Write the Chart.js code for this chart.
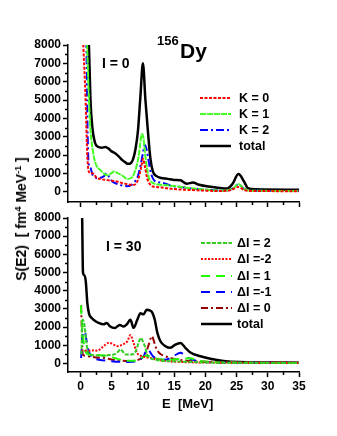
<!DOCTYPE html>
<html>
<head>
<meta charset="utf-8">
<script src="https://cdn.jsdelivr.net/npm/chart.js@4.4.1/dist/chart.umd.min.js"></script>
<style>
	body { margin: 0; background: #fff; }
	#wrap { position: relative; width: 337px; height: 436px; overflow: hidden; font-family: "Liberation Sans", Arial, sans-serif; font-weight: bold; color: #000; }
	#wrap canvas { position: absolute; left: 0; }
	.txt { position: absolute; white-space: nowrap; line-height: 1; }
	.ylab { position: absolute; left: 21px; top: 219px; transform: translate(-50%, -50%) rotate(-90deg); white-space: nowrap; font-size: 14px; line-height: 1; }
	.ylab sup { font-size: 9px; vertical-align: 5px; }
</style>
</head>
<body>
<div id="wrap">
	<canvas id="topPanel" width="337" height="215" style="top:0"></canvas>
	<canvas id="bottomPanel" width="337" height="236" style="top:200px"></canvas>
	<div class="txt" style="left:157px; top:34px; font-size:13px;">156</div>
	<div class="txt" style="left:180px; top:40px; font-size:21px;">Dy</div>
	<div class="txt" style="left:102px; top:56px; font-size:14px;">I = 0</div>
	<div class="txt" style="left:106px; top:239px; font-size:14px;">I = 30</div>
	<div class="txt" style="left:162px; top:397px; font-size:13px;">E&nbsp; [MeV]</div>
	<div class="ylab">S(E2)&nbsp; [ fm<sup>4</sup> MeV<sup>-1</sup> ]</div>
</div>
<script>
"use strict";

var yTickValues = [0, 1000, 2000, 3000, 4000, 5000, 6000, 7000, 8000];
var xTickValues = [0, 5, 10, 15, 20, 25, 30, 35];

// ---- I = 0 panel ----
var kLabels = ['K = 0', 'K = 1', 'K = 2', 'total'];

var eK0 = [0.2, 0.45, 0.8, 1.1, 1.4, 2.0, 2.6, 3.4, 4.2, 5.0, 5.8, 6.6, 7.4, 8.3, 8.9, 9.3, 9.7, 10.0, 10.3, 10.7, 11.2, 11.8, 12.8, 14.0, 16.0, 18.0, 20.0, 22.0, 24.0, 25.3, 26.3, 28.0, 35.0];
var sK0 = [10000, 8000, 5200, 1900, 1050, 1000, 760, 680, 640, 600, 560, 480, 420, 360, 450, 730, 1300, 1800, 1400, 700, 380, 270, 240, 180, 120, 90, 60, 40, 80, 260, 80, 40, 30];

var eK1 = [0.8, 1.05, 1.3, 1.6, 2.0, 2.4, 3.2, 4.3, 4.9, 5.4, 6.0, 6.5, 7.5, 8.3, 8.9, 9.3, 9.6, 9.85, 10.1, 10.4, 10.9, 11.7, 12.8, 14.4, 16.0, 17.6, 20.0, 23.0, 24.5, 25.3, 26.2, 27.0, 35.0];
var sK1 = [10000, 8000, 5500, 3400, 2200, 1550, 1180, 900, 1000, 1100, 1000, 930, 700, 800, 1300, 1900, 2700, 3150, 2900, 1900, 820, 460, 380, 330, 270, 190, 110, 60, 200, 420, 150, 60, 40];

var eK2 = [0.75, 0.95, 1.1, 1.3, 1.6, 1.9, 2.3, 2.7, 3.2, 3.7, 4.2, 4.6, 5.0, 5.5, 6.4, 7.5, 8.3, 8.8, 9.2, 9.6, 10.0, 10.3, 10.6, 10.9, 11.3, 11.8, 12.5, 13.5, 14.5, 16.0, 17.6, 20.0, 23.0, 24.5, 25.3, 26.2, 27.0, 35.0];
var sK2 = [10000, 8000, 4000, 1550, 1300, 950, 800, 730, 760, 830, 1000, 800, 600, 480, 360, 300, 400, 600, 850, 1400, 2100, 2550, 2300, 1700, 1000, 620, 520, 450, 330, 260, 180, 110, 60, 200, 420, 150, 60, 40];

var eTot0 = [1.15, 1.35, 1.6, 1.9, 2.3, 2.8, 3.4, 4.0, 4.5, 5.0, 5.6, 6.2, 6.7, 7.2, 7.6, 8.0, 8.4, 8.8, 9.2, 9.6, 10.0, 10.4, 10.8, 11.2, 11.6, 12.2, 12.8, 14.0, 15.0, 16.0, 17.0, 18.0, 19.0, 20.5, 22.0, 23.5, 24.3, 25.3, 26.2, 26.8, 28.0, 35.0];
var sTot0 = [9500, 8000, 5000, 3500, 2700, 2450, 2400, 2440, 2350, 2200, 2080, 1900, 1720, 1600, 1520, 1540, 1750, 2300, 3300, 5200, 7000, 5000, 3300, 1800, 1100, 850, 760, 700, 640, 620, 440, 500, 380, 280, 220, 180, 400, 960, 550, 200, 130, 110];

// ---- I = 30 panel ----
var dlLabels = ['\u0394I = 2', '\u0394I =-2', '\u0394I = 1', '\u0394I =-1', '\u0394I = 0', 'total'];

var eDl2 = [0.15, 0.3, 0.6, 0.9, 1.2, 1.6, 2.5, 3.7, 4.5, 5.3, 5.9, 6.4, 6.9, 7.3, 8.0, 8.5, 9.0, 9.3, 9.7, 10.0, 10.3, 10.8, 11.9, 13.0, 15.0, 18.0, 22.0, 35.0];
var sDl2 = [500, 2400, 2200, 1300, 600, 480, 450, 420, 460, 490, 600, 770, 600, 490, 490, 520, 800, 1130, 1400, 1200, 950, 400, 220, 150, 120, 80, 40, 30];

var eDlm2 = [0.15, 0.5, 1.0, 1.6, 2.2, 2.7, 3.2, 3.7, 4.5, 5.0, 5.9, 6.7, 7.5, 8.0, 8.5, 9.05, 9.85, 11.2, 12.5, 13.8, 16.0, 20.0, 35.0];
var sDlm2 = [700, 720, 700, 700, 720, 700, 800, 950, 1130, 1100, 950, 1040, 1220, 1560, 1130, 590, 400, 300, 200, 130, 80, 50, 30];

var eDl1 = [0.05, 0.3, 0.6, 1.0, 1.5, 2.5, 3.5, 4.5, 5.5, 6.5, 7.5, 8.5, 9.5, 10.3, 10.8, 11.5, 12.5, 14.0, 16.0, 17.5, 19.0, 21.0, 24.0, 35.0];
var sDl1 = [3200, 2000, 900, 550, 480, 470, 450, 400, 300, 200, 150, 150, 250, 400, 420, 350, 250, 200, 250, 280, 150, 80, 50, 30];

var eDlm1 = [0.1, 0.4, 0.65, 1.0, 1.3, 1.7, 2.2, 2.7, 4.8, 7.5, 9.1, 9.7, 10.2, 10.6, 11.0, 11.6, 12.4, 13.5, 15.0, 16.0, 17.0, 18.5, 21.0, 35.0];
var sDlm1 = [300, 1700, 1770, 1200, 700, 400, 250, 220, 130, 80, 130, 250, 450, 780, 700, 400, 250, 200, 420, 590, 350, 150, 60, 30];

var eDl0 = [0.1, 0.2, 0.35, 0.8, 1.5, 2.5, 3.8, 5.0, 6.5, 8.0, 9.0, 9.8, 10.4, 10.9, 11.2, 11.45, 11.7, 12.0, 12.6, 13.4, 15.0, 17.0, 20.0, 35.0];
var sDl0 = [3200, 2000, 500, 420, 380, 330, 300, 220, 150, 130, 180, 300, 550, 1000, 1350, 1500, 1300, 950, 580, 420, 250, 150, 100, 40];

var eTot30 = [0.27, 0.4, 0.6, 0.85, 1.1, 1.4, 1.8, 2.3, 2.9, 3.7, 4.2, 4.7, 5.5, 6.3, 6.9, 7.4, 8.0, 8.5, 9.1, 9.6, 10.1, 10.6, 11.1, 11.5, 11.9, 12.3, 12.8, 13.6, 14.4, 15.2, 16.0, 16.8, 17.6, 19.2, 20.8, 22.9, 25.5, 35.0];
var sTot30 = [8000, 5000, 4850, 4500, 3300, 2700, 2500, 2350, 2230, 2150, 2230, 2050, 1950, 2120, 2030, 2150, 2400, 1960, 2400, 2760, 2700, 2950, 2920, 2800, 2400, 1700, 1220, 950, 860, 1040, 1130, 860, 600, 400, 260, 140, 80, 40];

Chart.defaults.font.family = '"Liberation Sans", Arial, sans-serif';
Chart.defaults.font.weight = 'bold';
Chart.defaults.font.size = 12;
Chart.defaults.color = '#000';

function pts(e, s) {
	return e.map(function (x, i) { return { x: x, y: s[i] }; });
}

function line(label, e, s, color, dash, width) {
	return {
		label: label,
		data: pts(e, s),
		borderColor: color,
		borderDash: dash,
		borderWidth: width || 2,
		pointRadius: 0,
		fill: false,
		cubicInterpolationMode: 'monotone'
	};
}

// legend drawn inside the plot, using each dataset's own style
var innerLegend = {
	id: 'innerLegend',
	afterDraw: function (chart, args, opts) {
		var ctx = chart.ctx;
		chart.data.datasets.forEach(function (ds, i) {
			var y = opts.ys[i];
			ctx.save();
			ctx.strokeStyle = ds.borderColor;
			ctx.lineWidth = ds.borderWidth;
			ctx.setLineDash(ds.borderDash || []);
			ctx.beginPath();
			ctx.moveTo(opts.x0, y);
			ctx.lineTo(opts.x1, y);
			ctx.stroke();
			ctx.setLineDash([]);
			ctx.fillStyle = '#000';
			ctx.font = 'bold 12.5px "Liberation Sans", Arial';
			ctx.textBaseline = 'middle';
			ctx.fillText(ds.label, opts.tx, y + 0.5);
			ctx.restore();
		});
	}
};

// short minor ticks between the labelled ones
var minorTicks = {
	id: 'minorTicks',
	afterDraw: function (chart) {
		var ctx = chart.ctx, xs = chart.scales.x, ys = chart.scales.y, a = chart.chartArea;
		ctx.save();
		ctx.strokeStyle = '#000';
		ctx.lineWidth = 1.5;
		ctx.beginPath();
		for (var v = 500; v < 8000; v += 1000) {
			var y = Math.round(ys.getPixelForValue(v)) + 0.5;
			ctx.moveTo(a.left - 3, y);
			ctx.lineTo(a.left, y);
		}
		for (var e = 2.5; e < 35; e += 5) {
			var x = Math.round(xs.getPixelForValue(e)) + 0.5;
			ctx.moveTo(x, a.bottom);
			ctx.lineTo(x, a.bottom + 3);
		}
		ctx.stroke();
		ctx.restore();
	}
};

function fixedTicks(values) {
	return function (scale) {
		scale.ticks = values.map(function (v) { return { value: v }; });
	};
}

function panelOptions(yMin, padTop, xHeight, showX, legend) {
	return {
		responsive: false,
		animation: false,
		layout: { padding: { top: padTop, right: 38, left: 0, bottom: 0 } },
		plugins: {
			legend: { display: false },
			tooltip: { enabled: false },
			innerLegend: legend
		},
		scales: {
			x: {
				type: 'linear',
				min: -2,
				max: 35,
				afterBuildTicks: fixedTicks(xTickValues),
				ticks: {
					padding: 2,
					maxRotation: 0,
					autoSkip: false,
					callback: function (v) { return showX ? String(v) : ''; }
				},
				grid: { drawOnChartArea: false, drawTicks: true, tickLength: 5, tickColor: '#000', tickWidth: 1.5 },
				border: { display: true, color: '#000', width: 1.5 },
				afterFit: function (s) { s.height = xHeight; }
			},
			y: {
				min: yMin,
				max: 8000,
				afterBuildTicks: fixedTicks(yTickValues),
				ticks: {
					padding: 2,
					autoSkip: false,
					callback: function (v) { return String(v); }
				},
				grid: { drawOnChartArea: false, drawTicks: true, tickLength: 5, tickColor: '#000', tickWidth: 1.5 },
				border: { display: true, color: '#000', width: 1.5 },
				afterFit: function (s) { s.width = 68; }
			}
		}
	};
}

var topChart = new Chart('topPanel', {
	type: 'line',
	data: {
		datasets: [
			line(kLabels[0], eK0, sK0, '#ff0000', [3, 1.5]),
			line(kLabels[1], eK1, sK1, '#44ff22', [6, 1]),
			line(kLabels[2], eK2, sK2, '#0000ff', [8, 3, 2, 3]),
			line(kLabels[3], eTot0, sTot0, '#000000', [], 2.5)
		]
	},
	options: panelOptions(-560, 45, 13, false, { x0: 200, x1: 231, tx: 239, ys: [98, 114, 130, 146] }),
	plugins: [innerLegend, minorTicks]
});

var bottomChart = new Chart('bottomPanel', {
	type: 'line',
	data: {
		datasets: [
			line(dlLabels[0], eDl2, sDl2, '#33cc22', [4, 1.5]),
			line(dlLabels[1], eDlm2, sDlm2, '#ff0000', [2, 1.5]),
			line(dlLabels[2], eDl1, sDl1, '#22ff00', [9, 6]),
			line(dlLabels[3], eDlm1, sDlm1, '#0000ff', [9, 6]),
			line(dlLabels[4], eDl0, sDl0, '#990000', [7, 3, 2, 3]),
			line(dlLabels[5], eTot30, sTot30, '#000000', [], 2.5)
		]
	},
	options: panelOptions(-470, 18, 64, true, { x0: 201, x1: 232, tx: 237, ys: [43, 59, 76, 92, 108, 124] }),
	plugins: [innerLegend, minorTicks]
});
</script>
</body>
</html>
